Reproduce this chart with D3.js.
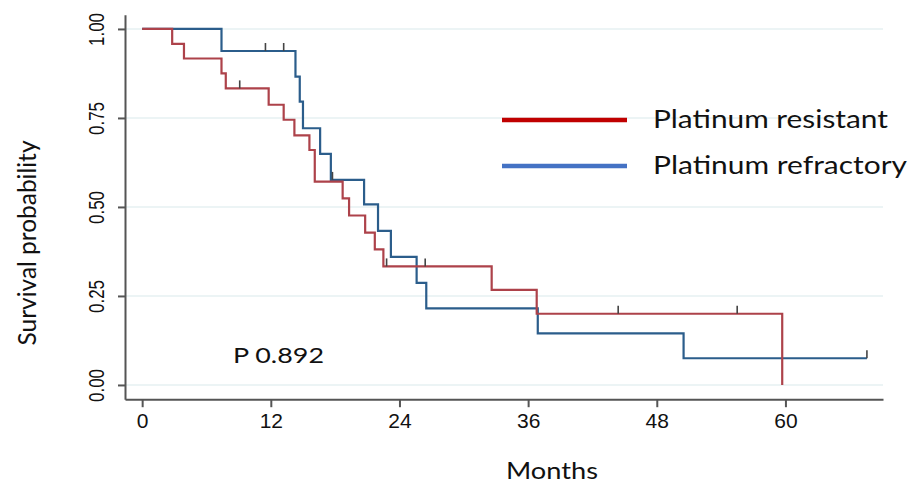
<!DOCTYPE html>
<html>
<head>
<meta charset="utf-8">
<script src="https://cdn.jsdelivr.net/npm/d3@7"></script>
<style>
  body { margin: 0; background: #fff; }
  svg { display: block; }
</style>
</head>
<body>
<script>
// Kaplan-Meier steps (months, survival)
var resistantTime = [0, 2.8, 3.9, 7.4, 7.8, 11.8, 13.2, 14.2, 15.6, 16.1, 18.7, 19.3, 20.8, 21.7, 22.5, 32.6, 36.8, 59.7];
var resistantSurv = [1.0, 0.958, 0.917, 0.875, 0.833, 0.787, 0.745, 0.701, 0.660, 0.571, 0.524, 0.476, 0.428, 0.381, 0.333, 0.267, 0.200, 0];
var resistantCensor = [9.1, 22.8, 26.4, 44.4, 55.5];

var refractoryTime = [0, 7.4, 14.3, 14.7, 15.0, 16.6, 17.6, 20.7, 22.0, 23.2, 25.6, 26.5, 36.9, 50.5];
var refractorySurv = [1.0, 0.938, 0.866, 0.796, 0.721, 0.649, 0.576, 0.507, 0.433, 0.360, 0.287, 0.215, 0.145, 0.075];
var refractoryCensor = [11.5, 13.2, 17.75, 67.6];
var refractoryLastFollowUp = 67.6;

var xTicks = [0, 12, 24, 36, 48, 60];
var yTicks = [0, 0.25, 0.5, 0.75, 1];
var legendLabels = ["Platinum resistant", "Platinum refractory"];
var pValueText = "P 0.892";

var width = 912, height = 488;

var svg = d3.select('body').append('svg').attr('width', width).attr('height', height);

var x = d3.scaleLinear().domain([-1.6, 69.1]).range([125, 883]);
var y = d3.scaleLinear().domain([-0.04, 1.04]).range([399.2, 14.7]);

// grid lines
svg.append('g').selectAll('line')
  .data(yTicks)
  .enter()
  .append('line')
  .attr('x1', x(-1.6)).attr('x2', x(69.1))
  .attr('y1', function(d) { return y(d); })
  .attr('y2', function(d) { return y(d); })
  .attr('stroke', '#e6f0f2')
  .attr('stroke-width', 1.5);

// axes
var xAxis = svg.append('g')
  .attr('transform', 'translate(0,' + y(-0.04) + ')')
  .call(d3.axisBottom(x).tickValues(xTicks).tickSize(8).tickSizeOuter(0));
xAxis.selectAll('text')
  .attr('y', 29).attr('dy', 0)
  .style('font-family', '"Liberation Sans", Arial, sans-serif')
  .style('font-size', '21px')
  .attr('fill', '#111');

var yAxis = svg.append('g')
  .attr('transform', 'translate(' + x(-1.6) + ',0)')
  .call(d3.axisLeft(y).tickValues(yTicks).tickFormat(d3.format('.2f')).tickSize(7).tickSizeOuter(0));
yAxis.selectAll('text')
  .attr('transform', 'rotate(-90)')
  .attr('x', 0).attr('y', -21).attr('dy', 0)
  .attr('text-anchor', 'middle')
  .attr('textLength', 33)
  .attr('lengthAdjust', 'spacingAndGlyphs')
  .style('font-family', '"Liberation Sans", Arial, sans-serif')
  .style('font-size', '22px')
  .attr('fill', '#111');

svg.selectAll('.domain, .tick line').attr('stroke', '#555').attr('stroke-width', 2);

// curves
var step = d3.line()
  .x(function(d) { return x(d[0]); })
  .y(function(d) { return y(d[1]); })
  .curve(d3.curveStepAfter);

var refractoryPts = refractoryTime.map(function(t, i) { return [t, refractorySurv[i]]; });
refractoryPts.push([refractoryLastFollowUp, refractorySurv[refractorySurv.length - 1]]);
var resistantPts = resistantTime.map(function(t, i) { return [t, resistantSurv[i]]; });

function survAt(times, surv, t) {
  var i = d3.bisectRight(times, t) - 1;
  return surv[Math.max(0, i)];
}

svg.append('path').datum(refractoryPts)
  .attr('d', step).attr('fill', 'none')
  .attr('stroke', '#2b5d8b').attr('stroke-width', 2.2);

svg.append('path').datum(resistantPts)
  .attr('d', step).attr('fill', 'none')
  .attr('stroke', '#ad424a').attr('stroke-width', 2.2);

// censor marks
function drawCensor(cls, times, surv, censor) {
  svg.append('g').selectAll('line')
    .data(censor)
    .enter()
    .append('line')
    .attr('class', cls)
    .attr('x1', function(d) { return x(d); })
    .attr('x2', function(d) { return x(d); })
    .attr('y1', function(d) { return y(survAt(times, surv, d)); })
    .attr('y2', function(d) { return y(survAt(times, surv, d)) - 8; })
    .attr('stroke', '#444')
    .attr('stroke-width', 1.6);
}
drawCensor('c-ref', refractoryTime, refractorySurv, refractoryCensor);
drawCensor('c-res', resistantTime, resistantSurv, resistantCensor);

// legend
var legendColors = ['#c00000', '#4472c4'];
var legendY = [120, 166];
var legendWidth = [235, 254];
var legend = svg.append('g').selectAll('g')
  .data(legendLabels)
  .enter()
  .append('g');
legend.append('line')
  .attr('x1', 502).attr('x2', 627)
  .attr('y1', function(d, i) { return legendY[i]; })
  .attr('y2', function(d, i) { return legendY[i]; })
  .attr('stroke', function(d, i) { return legendColors[i]; })
  .attr('stroke-width', 4.5);
legend.append('text')
  .attr('x', 653)
  .attr('y', function(d, i) { return legendY[i] + 8; })
  .attr('textLength', function(d, i) { return legendWidth[i]; })
  .attr('lengthAdjust', 'spacingAndGlyphs')
  .style('font-family', 'Lato, "Open Sans", sans-serif')
  .style('font-size', '25px')
  .attr('fill', '#111')
  .text(function(d) { return d; });

// p value
svg.append('text')
  .attr('x', 233).attr('y', 363)
  .attr('textLength', 91)
  .attr('lengthAdjust', 'spacingAndGlyphs')
  .style('font-family', 'Lato, "Open Sans", sans-serif')
  .style('font-size', '22px')
  .attr('fill', '#111')
  .text(pValueText);

// axis titles
svg.append('text')
  .attr('x', 552).attr('y', 479)
  .attr('text-anchor', 'middle')
  .attr('textLength', 92)
  .attr('lengthAdjust', 'spacingAndGlyphs')
  .style('font-family', 'Lato, "Open Sans", sans-serif')
  .style('font-size', '23px')
  .attr('fill', '#111')
  .text('Months');

svg.append('text')
  .attr('transform', 'translate(36,243) rotate(-90)')
  .attr('text-anchor', 'middle')
  .attr('textLength', 205)
  .attr('lengthAdjust', 'spacingAndGlyphs')
  .style('font-family', 'Lato, "Open Sans", sans-serif')
  .style('font-size', '25px')
  .attr('fill', '#111')
  .text('Survival probability');
</script>
</body>
</html>
